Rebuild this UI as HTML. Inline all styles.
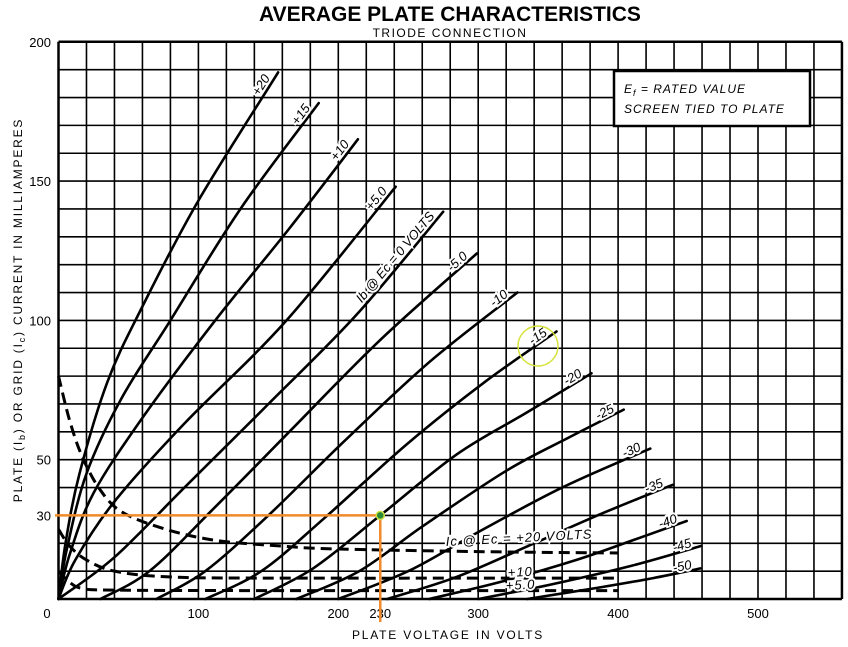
<!DOCTYPE html>
<html><head><meta charset="utf-8">
<style>
body{margin:0;background:#fff;}
svg{display:block;font-family:"Liberation Sans",sans-serif;}
</style></head>
<body>
<svg id="chart" width="848" height="647" viewBox="0 0 848 647">
<text x="450" y="21" text-anchor="middle" font-size="21" font-weight="bold">AVERAGE PLATE CHARACTERISTICS</text>
<text x="450" y="37" text-anchor="middle" font-size="12" letter-spacing="1.5">TRIODE CONNECTION</text>
<g id="grid"></g>
<g id="curves"></g>
<g id="ticks"></g>
<text x="448" y="639" text-anchor="middle" font-size="12" letter-spacing="1.8">PLATE VOLTAGE IN VOLTS</text>
<text transform="translate(22,310) rotate(-90)" text-anchor="middle" font-size="12" letter-spacing="1.8">PLATE (I<tspan font-size="9" dy="3">b</tspan><tspan dy="-3">) OR GRID (I</tspan><tspan font-size="9" dy="3">c</tspan><tspan dy="-3">) CURRENT IN MILLIAMPERES</tspan></text>
<g>
<rect x="614" y="71" width="196" height="55" fill="#fff" stroke="#000" stroke-width="2.5"/>
<text x="624" y="93" font-size="12" font-style="italic" letter-spacing="1">E<tspan font-size="9" dy="3">f</tspan><tspan dy="-3"> = RATED VALUE</tspan></text>
<text x="624" y="113" font-size="12" font-style="italic" letter-spacing="1">SCREEN TIED TO PLATE</text>
</g>
<g id="marker"></g>
</svg>
<script>
const ecLabels = ["+20","+15","+10","+5.0","0","-5.0","-10","-15","-20","-25","-30","-35","-40","-45","-50"];
const ibCurves = [
 [[0,0],[5,20],[15,45],[35,78],[60,105],[100,143],[157,189]],
 [[0,0],[6,18],[20,45],[45,72],[80,100],[130,140],[186,178]],
 [[0,0],[8,16],[25,38],[60,65],[112,100],[165,133],[214,165]],
 [[0,0],[12,14],[40,35],[90,63],[163,100],[241,148]],
 [[0,0],[40,15],[90,40],[150,70],[213,102],[275,139]],
 [[30,0],[65,10],[110,32],[165,60],[230,93],[299,124]],
 [[70,0],[105,10],[150,30],[205,57],[265,85],[328,110]],
 [[105,0],[145,10],[190,29],[250,56],[305,78],[356,96]],
 [[140,0],[182,11],[230,30],[285,52],[335,67],[381,81]],
 [[170,0],[215,10],[260,26],[320,46],[365,58],[404,68]],
 [[200,0],[250,10],[300,24],[360,40],[423,54]],
 [[235,0],[285,8],[340,20],[390,31],[439,41]],
 [[265,0],[315,6],[370,14],[410,21],[449,28]],
 [[300,0],[350,5],[410,12],[459,19]],
 [[335,0],[385,4],[425,7.5],[459,11]]
];
const icLabels = ["+20","+10","+5.0"];
const icCurves = [
 [[0,80],[8,64],[17,51],[30,39],[46,31],[77,25],[113,21],[160,19],[196,18],[300,17],[400,16.5]],
 [[0,25],[8,19],[20,14],[40,10],[77,8],[150,7.5],[400,7.5]],
 [[0,10],[8,6],[17,3.8],[40,3.2],[150,3],[400,3]]
];
const xTicks = [0,100,200,230,300,400,500];
const yTicks = [0,30,50,100,150,200];
const opV = 230, opI = 30;

const X0=58.5, XS=1.399, Y0=599, YS=2.786;
const xs = v => X0 + v*XS;
const ys = i => Y0 - i*YS;
const NS="http://www.w3.org/2000/svg";
function mk(tag, attrs, parent){const e=document.createElementNS(NS,tag);for(const k in attrs)e.setAttribute(k,attrs[k]);parent.appendChild(e);return e;}
function smooth(pts){
 const p=pts.map(d=>[xs(d[0]),ys(d[1])]);
 let s="M"+p[0][0].toFixed(1)+","+p[0][1].toFixed(1);
 for(let i=0;i<p.length-1;i++){
  const a=p[Math.max(0,i-1)],b=p[i],c=p[i+1],d=p[Math.min(p.length-1,i+2)];
  const c1=[b[0]+(c[0]-a[0])/6,b[1]+(c[1]-a[1])/6],c2=[c[0]-(d[0]-b[0])/6,c[1]-(d[1]-b[1])/6];
  s+=" C"+c1[0].toFixed(1)+","+c1[1].toFixed(1)+" "+c2[0].toFixed(1)+","+c2[1].toFixed(1)+" "+c[0].toFixed(1)+","+c[1].toFixed(1);
 }
 return s;
}
const grid=document.getElementById('grid');
for(let v=0;v<=560;v+=20){
 const l=mk('line',{x1:xs(v),x2:xs(v),y1:ys(0),y2:ys(200),stroke:'#000','stroke-width':(v===0||v===560)?2.5:1.6},grid);
 
 
}
for(let i=0;i<=200;i+=10){
 const l=mk('line',{x1:xs(0),x2:xs(560),y1:ys(i),y2:ys(i),stroke:'#000','stroke-width':(i===0||i===200)?2.5:1.6},grid);
 
 
}
const cg=document.getElementById('curves');
ibCurves.forEach((c,k)=>{
 const p=mk('path',{d:smooth(c),fill:'none',stroke:'#000','stroke-width':2.6,'stroke-linecap':'round'},cg);
 
 
 const e=c[c.length-1], q=c[c.length-2];
 const ang=Math.atan2(ys(e[1])-ys(q[1]),xs(e[0])-xs(q[0]))*180/Math.PI;
 const t=mk('text',{'font-size':13,'font-style':'italic','text-anchor':'end',fill:'#000',stroke:'#fff','stroke-width':4,'paint-order':'stroke',
  transform:'translate('+(xs(e[0])-2)+','+(ys(e[1])+2)+') rotate('+ang.toFixed(1)+') translate(-6,-3)'},cg);
 t.textContent = ecLabels[k]==="0" ? "Ib @ Ec = 0 VOLTS" : ecLabels[k];
 
 
});
icCurves.forEach((c,k)=>{
 const p=mk('path',{d:smooth(c),fill:'none',stroke:'#000','stroke-width':3,'stroke-dasharray':'11,6'},cg);
 
 
});
const icT=[["Ic @ Ec = +20 VOLTS",446,546,-3],["+10",508,577,-3],["+5.0",506,590,-3]];
icT.forEach((a,k)=>{
 const t=mk('text',{x:a[1],y:a[2],'font-size':13,'font-style':'italic',fill:'#000',stroke:'#fff','stroke-width':4,'paint-order':'stroke',transform:'rotate('+a[3]+' '+a[1]+' '+a[2]+')','letter-spacing':1},cg);
 t.textContent=a[0];
 
 
});
const tg=document.getElementById('ticks');
xTicks.forEach(v=>{
 const t=mk('text',{x:v===0?47:xs(v),y:618,'text-anchor':'middle','font-size':13},tg);
 t.textContent=v;
 
 
});
yTicks.forEach(i=>{
 if(i===0) return;
 const t=mk('text',{x:51,y:ys(i)+5,'text-anchor':'end','font-size':13},tg);
 t.textContent=i;
 
 
});
const mg=document.getElementById('marker');
const h=mk('line',{x1:55,x2:xs(opV),y1:ys(opI),y2:ys(opI),stroke:'#f08a2a','stroke-width':2.5},mg);


const v=mk('line',{x1:xs(opV),x2:xs(opV),y1:ys(opI),y2:622,stroke:'#f08a2a','stroke-width':2.5},mg);


const c=mk('circle',{cx:xs(opV),cy:ys(opI),r:4,fill:'#2a8a3a',stroke:'#cde040','stroke-width':1.5},mg);


const hl=mk('circle',{cx:538,cy:346,r:20,fill:'none',stroke:'#d6e23c','stroke-width':1.5},mg);


</script>
</body></html>
